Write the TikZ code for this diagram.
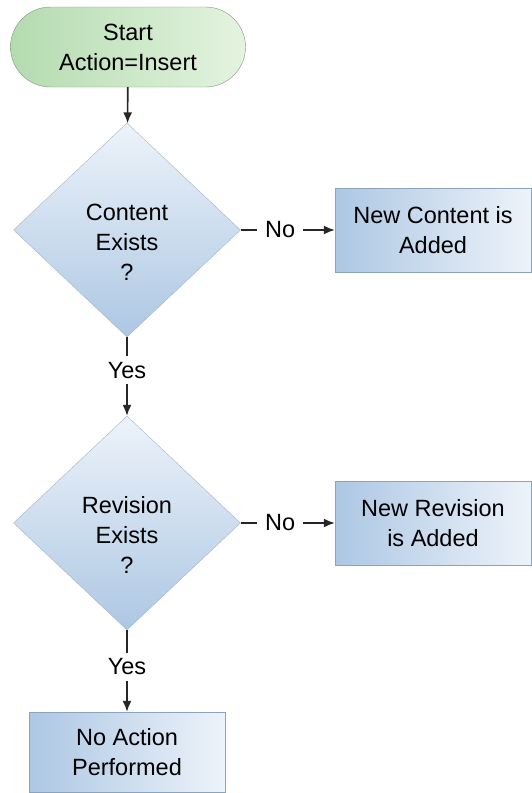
\documentclass[tikz,border=0pt]{standalone}
\usepackage{fontspec}
\setmainfont{Liberation Sans}
\usetikzlibrary{shapes.geometric,arrows.meta}
\definecolor{pillL}{HTML}{B4DBB0}
\definecolor{pillR}{HTML}{E4F3E0}
\definecolor{pillD}{HTML}{7E9A7A}
\definecolor{boxL}{HTML}{ADC7E3}
\definecolor{boxR}{HTML}{EDF3FA}
\definecolor{boxD}{HTML}{8CA3BD}
\definecolor{linec}{HTML}{262626}

\begin{document}
\begin{tikzpicture}[x=1pt, y=-1pt, font=\fontsize{23.5}{30}\selectfont, >={Latex[length=11pt,width=9pt]},
  pill/.style={draw=pillD, rounded corners=40pt, left color=pillL, right color=pillR, minimum width=235pt, minimum height=80pt, align=center},
  decision/.style={draw=boxD!80, diamond, top color=boxR, bottom color=boxL, minimum width=227pt, minimum height=214pt, inner sep=0pt},
  action/.style={draw=boxD, left color=boxL, right color=boxR, minimum width=196pt, minimum height=84pt, align=center},
  conn/.style={draw=linec, line width=1.6pt, ->},
  answer/.style={fill=white, inner xsep=8pt, inner ysep=6pt, text=black}]
\useasboundingbox (0,0) rectangle (532,793);

\node[pill] (start) at (128,47) {Start\\Action=Insert};
\node[decision, label={[yshift=-12pt, align=center]center:Content\\Exists\\?}] (cexists) at (127,230) {};
\node[action] (newcontent) at (433,230) {New Content is\\Added};
\node[decision, label={[yshift=-12pt, align=center]center:Revision\\Exists\\?}] (rexists) at (127,523) {};
\node[action] (newrevision) at (433,523) {New Revision\\is Added};
\node[action, minimum height=80pt] (noaction) at (127,752) {No Action\\Performed};

\draw[conn] (start) -- (cexists);
\draw[conn] (cexists) -- node[answer, pos=.42] {No} (newcontent);
\draw[conn] (cexists) -- node[answer, pos=.42] {Yes} (rexists);
\draw[conn] (rexists) -- node[answer, pos=.42] {No} (newrevision);
\draw[conn] (rexists) -- node[answer, pos=.45] {Yes} (noaction);

\end{tikzpicture}
\end{document}
